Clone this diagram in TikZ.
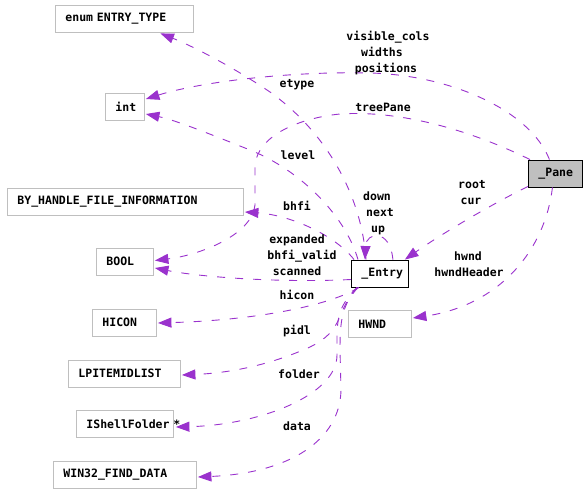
\documentclass[tikz,border=0pt]{standalone}
\usepackage{fontspec}
\setmonofont{DejaVu Sans Mono}
\usetikzlibrary{arrows.meta,calc}
\definecolor{edgepurple}{HTML}{9A32CD}
\definecolor{boxgray}{HTML}{BFBFBF}
\tikzset{
  cls/.style={draw=boxgray, line width=0.9pt, minimum height=27pt, inner xsep=10pt, inner ysep=0pt,
    align=left, anchor=west, font=\fontsize{11.5}{13}\selectfont\ttfamily\bfseries},
  lbl/.style={inner sep=0pt, text height=8pt, text depth=2pt, font=\fontsize{11.5}{13}\selectfont\ttfamily\bfseries},
  rel/.style={draw=edgepurple, line width=0.9pt, dash pattern=on 8pt off 10pt,
    -{Triangle[length=13.5pt,width=10pt]}}
}
\begin{document}
\begin{tikzpicture}[x=1pt,y=-1pt]
\useasboundingbox (0,0) rectangle (587,493);
% class boxes
\node[cls, text width=118pt] (enum) at (55,18.5) {enum ENTRY\_TYPE};
\node[cls, text width=19pt] (int) at (105,106.5) {int};
\node[cls, text width=216pt] (by) at (7,201.5) {BY\_HANDLE\_FILE\_INFORMATION};
\node[cls, text width=37pt] (bool) at (96,261.5) {BOOL};
\node[cls, text width=44pt] (hicon) at (92,322.5) {HICON};
\node[cls, text width=92pt] (lpi) at (68,373.5) {LPITEMIDLIST};
\node[cls, text width=77pt] (ishell) at (76,424) {IShellFolder\rlap{ *}};
\node[cls, text width=123pt] (win32) at (53,474.5) {WIN32\_FIND\_DATA};
\node[cls, draw=black, text width=37pt] (entry) at (351,273.5) {\_Entry};
\node[cls, text width=43pt] (hwnd) at (348,324) {HWND};
\node[cls, draw=black, fill=boxgray, text width=34pt] (pane) at (528,173.5) {\_Pane};
% edges
\draw[rel] ($(pane.north)+(-6,0)$) .. controls (530,110) and (450,75) .. (370,73)
  .. controls (290,71) and (200,82) .. ($(int.east)+(1,-7.5)$);
\draw[rel] ($(entry.north west)+(7,0)$) .. controls (345,215) and (300,170) .. (250,150)
  .. controls (210,134) and (175,120) .. ($(int.east)+(1,7.5)$);
\draw[rel] ($(entry.north west)+(15,0)$) .. controls (362,200) and (330,135) .. (270,92)
  .. controls (230,65) and (190,45) .. ($(enum.south)+(36,1)$);
\draw[rel] ($(entry.north west)+(3,0)$) .. controls (335,235) and (290,215) .. ($(by.east)+(1,10.5)$);
\draw[rel] ($(pane.north west)+(2,0)$) .. controls (470,130) and (400,110) .. (340,114)
  .. controls (300,118) and (258,135) .. (255,165) -- (255,205)
  .. controls (252,235) and (200,255) .. ($(bool.east)+(1,-1)$);
\draw[rel] ($(entry.west)+(0,6)$) .. controls (280,283) and (200,277) .. ($(bool.east)+(1,6.5)$);
\draw[rel] ($(entry.south west)+(8,0)$) .. controls (330,305) and (260,320) .. ($(hicon.east)+(1,0.5)$);
\draw[rel] ($(entry.south west)+(6,0)$) .. controls (335,312) and (345,330) .. (310,347)
  .. controls (270,365) and (230,373) .. ($(lpi.east)+(1,1.5)$);
\draw[rel] ($(entry.south west)+(6,0)$) .. controls (340,305) and (337,315) .. (337,340) -- (337,355)
  .. controls (337,395) and (260,425) .. ($(ishell.east)+(2,3)$);
\draw[rel] ($(entry.south west)+(7,0)$) .. controls (342,305) and (340,320) .. (340,350) -- (341,390)
  .. controls (340,440) and (290,473) .. ($(win32.east)+(1,2.5)$);
\draw[rel] ($(pane.south west)+(0,-1)$) .. controls (490,205) and (440,235) .. ($(entry.north east)+(-4,0)$);
\draw[rel] ($(pane.south)+(-3,0)$) .. controls (545,250) and (500,305) .. ($(hwnd.east)+(1,-6)$);
\draw[rel] ($(entry.north east)+(-16,0)$) .. controls (390,228) and (366,232) .. ($(entry.north west)+(14,0)$);
% labels
\node[lbl] (l1) at (388,37) {visible\_cols};
\node[lbl] (l2) at (382,53) {widths};
\node[lbl] (l3) at (386,69) {positions};
\node[lbl] (l4) at (297,84) {etype};
\node[lbl] (l5) at (383,108) {treePane};
\node[lbl] (l6) at (298,156) {level};
\node[lbl] (l7) at (377,197) {down};
\node[lbl] (l8) at (380,213) {next};
\node[lbl] (l9) at (378,229) {up};
\node[lbl] (l10) at (297,207) {bhfi};
\node[lbl] (l11) at (297,240) {expanded};
\node[lbl] (l12) at (302,256) {bhfi\_valid};
\node[lbl] (l13) at (297,272) {scanned};
\node[lbl] (l14) at (472,185) {root};
\node[lbl] (l15) at (471,201) {cur};
\node[lbl] (l16) at (468,257) {hwnd};
\node[lbl] (l17) at (469,273) {hwndHeader};
\node[lbl] (l18) at (297,296) {hicon};
\node[lbl] (l19) at (297,331) {pidl};
\node[lbl] (l20) at (299,375) {folder};
\node[lbl] (l21) at (297,427) {data};
\end{tikzpicture}
\end{document}
